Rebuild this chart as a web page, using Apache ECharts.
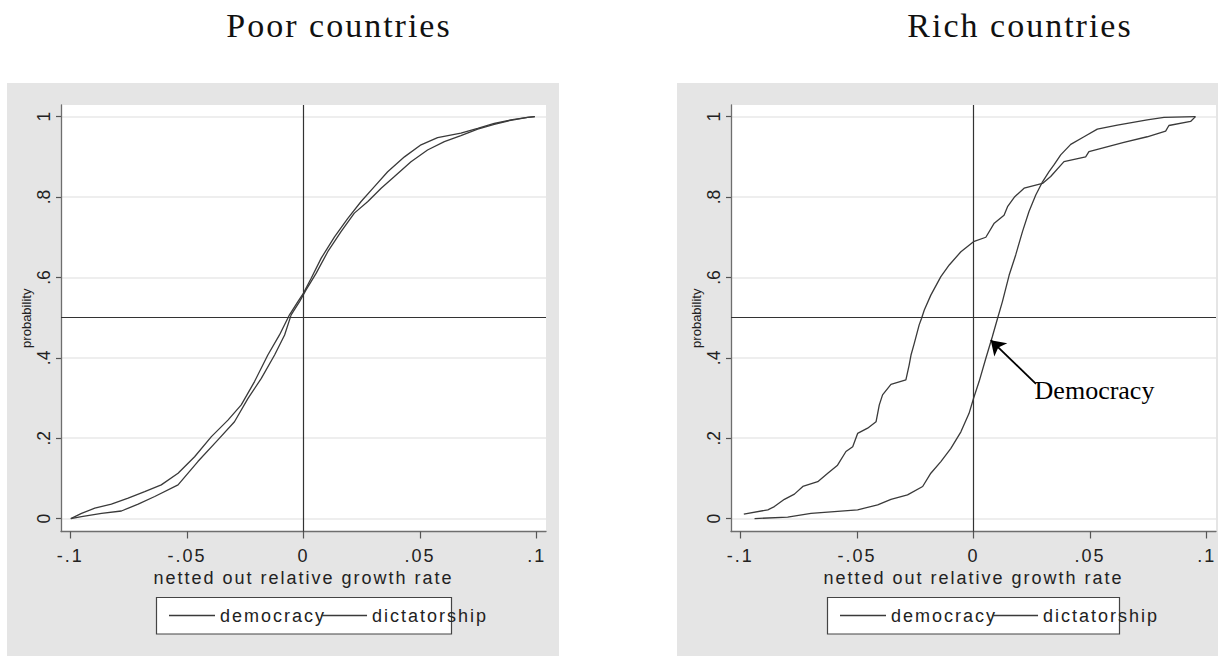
<!DOCTYPE html>
<html>
<head>
<meta charset="utf-8">
<script src="https://cdn.jsdelivr.net/npm/echarts@6/dist/echarts.min.js"></script>
<style>
html,body{margin:0;padding:0;background:#fff;}
#main{width:1218px;height:656px;}
#main text[style*="18px"]{letter-spacing:2px;}
#main text[style*="34px"]{letter-spacing:2px;}
</style>
</head>
<body>
<div id="main"></div>
<script>
// ---------- data ----------
const panelTitles = ['Poor countries', 'Rich countries'];
const seriesNames = ['democracy', 'dictatorship'];
const xAxisName = 'netted out relative growth rate';
const yAxisName = 'probability';
const xTickValues = [-0.1, -0.05, 0, 0.05, 0.1];
const xTickLabels = ['-.1', '-.05', '0', '.05', '.1'];
const yTickValues = [0, 0.2, 0.4, 0.6, 0.8, 1];
const yTickLabels = ['0', '.2', '.4', '.6', '.8', '1'];
const annotationText = 'Democracy';

const poorDemocracy = [[-0.0998,0],[-0.0952,0.013],[-0.0895,0.026],[-0.0824,0.036],[-0.0752,0.051],[-0.0681,0.067],[-0.061,0.084],[-0.0538,0.113],[-0.0467,0.154],[-0.0395,0.204],[-0.0324,0.245],[-0.0267,0.283],[-0.021,0.341],[-0.0153,0.407],[-0.0103,0.457],[-0.006,0.507],[-0.0024,0.54],[0,0.561],[0.0033,0.598],[0.0076,0.648],[0.0133,0.701],[0.019,0.747],[0.0247,0.789],[0.0304,0.826],[0.0361,0.863],[0.0433,0.9],[0.0504,0.93],[0.0575,0.948],[0.0675,0.959],[0.0747,0.971],[0.0818,0.983],[0.0889,0.992],[0.0961,0.998],[0.0992,1]];
const poorDictatorship = [[-0.0998,0],[-0.0952,0.005],[-0.0866,0.013],[-0.0781,0.019],[-0.0709,0.036],[-0.0638,0.055],[-0.0538,0.084],[-0.0453,0.142],[-0.0367,0.196],[-0.0296,0.241],[-0.0238,0.299],[-0.0181,0.349],[-0.0124,0.407],[-0.0081,0.457],[-0.0053,0.507],[-0.0017,0.54],[0.0011,0.569],[0.0054,0.61],[0.0104,0.664],[0.0161,0.714],[0.0218,0.76],[0.0276,0.789],[0.0333,0.822],[0.039,0.851],[0.0461,0.888],[0.0532,0.917],[0.0604,0.938],[0.0675,0.953],[0.0747,0.969],[0.0818,0.981],[0.0889,0.991],[0.0961,0.998],[0.0992,1]];
const richDemocracy = [[-0.0939,0],[-0.0797,0.004],[-0.0697,0.013],[-0.0497,0.022],[-0.0411,0.034],[-0.0354,0.048],[-0.0283,0.059],[-0.0218,0.08],[-0.0183,0.113],[-0.014,0.142],[-0.0097,0.175],[-0.0054,0.216],[-0.0019,0.262],[0,0.299],[0.0024,0.341],[0.0053,0.399],[0.0081,0.453],[0.0103,0.498],[0.0124,0.54],[0.0153,0.606],[0.0181,0.656],[0.021,0.714],[0.0238,0.764],[0.0267,0.805],[0.0296,0.838],[0.0324,0.863],[0.0345,0.88],[0.0374,0.905],[0.0417,0.931],[0.0474,0.95],[0.0531,0.969],[0.0617,0.979],[0.0745,0.992],[0.0817,0.998],[0.0952,1]];
const richDictatorship = [[-0.0985,0.011],[-0.0882,0.022],[-0.0854,0.03],[-0.0811,0.048],[-0.0768,0.061],[-0.0732,0.08],[-0.0668,0.092],[-0.0625,0.113],[-0.0583,0.133],[-0.0547,0.167],[-0.0518,0.179],[-0.0497,0.212],[-0.0454,0.225],[-0.0418,0.241],[-0.0404,0.283],[-0.039,0.308],[-0.0354,0.334],[-0.029,0.345],[-0.0276,0.382],[-0.0268,0.407],[-0.0254,0.436],[-0.0233,0.482],[-0.0223,0.498],[-0.0211,0.519],[-0.0183,0.556],[-0.014,0.602],[-0.0104,0.631],[-0.0054,0.664],[0,0.689],[0.0053,0.7],[0.0089,0.735],[0.0131,0.755],[0.0146,0.776],[0.0177,0.801],[0.0217,0.822],[0.0296,0.834],[0.0331,0.851],[0.0388,0.888],[0.0481,0.9],[0.0495,0.913],[0.056,0.923],[0.0645,0.936],[0.0745,0.95],[0.0824,0.964],[0.0838,0.978],[0.0931,0.988],[0.0952,1]];
const arrowFrom = [0.0268, 0.335];
const arrowTo = [0.0074, 0.444];
const annotationAt = [0.0262, 0.319];

// ---------- chart ----------
const chart = echarts.init(document.getElementById('main'), null, {renderer: 'svg', width: 1218, height: 656});
const SANS = 'Liberation Sans';
const SERIF = 'Liberation Serif';
const LINE = '#3a3a3a';

function fmt(values, labels) {
  return function (v) {
    const i = values.findIndex(t => Math.abs(t - v) < 1e-9);
    return i >= 0 ? labels[i] : '';
  };
}

const gridLefts = [61, 731];
const grids = gridLefts.map(l => ({left: l, top: 105, width: 485, height: 426.5, show: true, backgroundColor: '#fff', borderWidth: 0}));

const xAxes = [0, 1].map(i => ({
  gridIndex: i, type: 'value', min: -0.104, max: 0.104,
  name: xAxisName, nameLocation: 'middle', nameGap: 35,
  nameTextStyle: {fontSize: 18, color: '#222', fontFamily: SANS},
  axisLine: {onZero: false, lineStyle: {color: '#6e6e6e', width: 1.3}},
  axisTick: {customValues: xTickValues, length: 7, lineStyle: {color: '#555', width: 1.2}},
  axisLabel: {customValues: xTickValues, formatter: fmt(xTickValues, xTickLabels), margin: 15, fontSize: 18, color: '#222', fontFamily: SANS},
  splitLine: {show: false}
}));

const yAxes = [0, 1].map(i => ({
  gridIndex: i, type: 'value', min: -0.032, max: 1.029,
  name: yAxisName, nameLocation: 'middle', nameGap: 28,
  nameTextStyle: {fontSize: 13, color: '#222', fontFamily: SANS},
  axisLine: {onZero: false, lineStyle: {color: '#6e6e6e', width: 1.3}},
  axisTick: {customValues: yTickValues, length: 5, lineStyle: {color: '#555', width: 1.2}},
  axisLabel: {customValues: yTickValues, formatter: fmt(yTickValues, yTickLabels), rotate: 90, margin: 8, fontSize: 17.5, color: '#222', fontFamily: SANS},
  splitLine: {show: true, lineStyle: {color: '#e8e8e8', width: 1.5}}
}));

function refLines() {
  return {
    silent: true, symbol: 'none', animation: false,
    label: {show: false},
    lineStyle: {color: '#333', width: 1.2, type: 'solid'},
    emphasis: {disabled: true},
    data: [{xAxis: 0}, {yAxis: 0.5}]
  };
}

function curve(name, idx, data, extra) {
  return Object.assign({
    name: name, type: 'line', xAxisIndex: idx, yAxisIndex: idx, data: data,
    symbol: 'none', showSymbol: false, animation: false,
    lineStyle: {color: LINE, width: 1.3}, itemStyle: {color: LINE},
    emphasis: {disabled: true}
  }, extra || {});
}

const series = [
  curve(seriesNames[0], 0, poorDemocracy, {markLine: refLines()}),
  curve(seriesNames[1], 0, poorDictatorship),
  curve(seriesNames[0], 1, richDemocracy, {
    markLine: {
      silent: true, animation: false, symbol: ['none', 'arrow'], symbolSize: 14,
      label: {show: false}, emphasis: {disabled: true},
      lineStyle: {color: '#000', width: 1.8, type: 'solid'},
      data: [[{coord: arrowFrom}, {coord: arrowTo}]]
    },
    markPoint: {
      silent: true, animation: false, symbol: 'circle', symbolSize: 0,
      itemStyle: {color: 'transparent'},
      label: {show: true, position: 'right', distance: 0, formatter: annotationText, fontFamily: SERIF, fontSize: 26, color: '#000'},
      data: [{coord: annotationAt}]
    }
  }),
  curve(seriesNames[1], 1, richDictatorship, {markLine: refLines()})
];

const legends = [169, 840].map(l => ({
  data: seriesNames, left: l, top: 606.5, orient: 'horizontal', padding: 0,
  icon: 'rect', itemWidth: 46, itemHeight: 1.3, itemGap: 13, selectedMode: false,
  textStyle: {fontSize: 18, color: '#222', fontFamily: SANS}
}));

const graphic = {elements: [
  {type: 'rect', z: -10, silent: true, shape: {x: 7, y: 83, width: 552, height: 580}, style: {fill: '#e5e5e5'}},
  {type: 'rect', z: -10, silent: true, shape: {x: 677, y: 83, width: 560, height: 580}, style: {fill: '#e5e5e5'}},
  {type: 'rect', z: 1, silent: true, shape: {x: 156.5, y: 597.5, width: 295, height: 36.5}, style: {fill: '#fff', stroke: '#444', lineWidth: 1.2}},
  {type: 'rect', z: 1, silent: true, shape: {x: 827.5, y: 597.5, width: 292, height: 36.5}, style: {fill: '#fff', stroke: '#444', lineWidth: 1.2}},
  {type: 'text', silent: true, style: {text: panelTitles[0], x: 339, y: 25.6, align: 'center', verticalAlign: 'middle', font: '34px "Liberation Serif"', fill: '#111'}},
  {type: 'text', silent: true, style: {text: panelTitles[1], x: 1020, y: 25.6, align: 'center', verticalAlign: 'middle', font: '34px "Liberation Serif"', fill: '#111'}}
]};

chart.setOption({
  animation: false,
  backgroundColor: '#fff',
  grid: grids,
  xAxis: xAxes,
  yAxis: yAxes,
  legend: legends,
  graphic: graphic,
  series: series
});
</script>
</body>
</html>
